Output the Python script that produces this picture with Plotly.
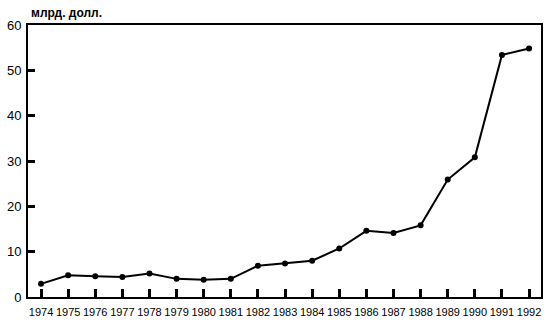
import plotly.graph_objects as go

years = [1974, 1975, 1976, 1977, 1978, 1979, 1980, 1981, 1982, 1983,
         1984, 1985, 1986, 1987, 1988, 1989, 1990, 1991, 1992]
values = [2.9, 4.8, 4.6, 4.4, 5.2, 4.0, 3.8, 4.0, 6.9, 7.4,
          8.0, 10.7, 14.6, 14.1, 15.8, 25.9, 30.8, 53.4, 54.8]
y_ticks = [0, 10, 20, 30, 40, 50, 60]
unit_label = "млрд. долл."

fig = go.Figure()
fig.add_trace(go.Scatter(
    x=years, y=values, mode="lines+markers",
    line=dict(color="black", width=2),
    marker=dict(color="black", size=6),
    showlegend=False, hoverinfo="skip"))

fig.update_layout(
    width=550, height=328,
    margin=dict(l=27, r=7, t=25, b=31),
    paper_bgcolor="white", plot_bgcolor="white",
    font=dict(family="Liberation Sans, Arial, sans-serif", color="black"),
    xaxis=dict(
        range=[1973.52, 1992.44], tickvals=years, ticktext=[str(y) for y in years],
        showgrid=False, zeroline=False,
        showline=True, linecolor="black", linewidth=2, mirror=True,
        ticks="inside", ticklen=8, tickwidth=3, tickcolor="black",
        tickfont=dict(family="Liberation Sans, Arial, sans-serif", size=11),
        tickangle=0,
        ticklabelstandoff=4,
    ),
    yaxis=dict(
        range=[0, 60], tickvals=y_ticks,
        showgrid=False, zeroline=False,
        showline=True, linecolor="black", linewidth=2, mirror=True,
        ticks="inside", ticklen=7, tickwidth=3, tickcolor="black",
        tickfont=dict(size=13),
        ticklabelstandoff=2,
    ),
    annotations=[dict(
        text="<b>" + unit_label + "</b>", xref="paper", yref="paper",
        x=0, y=1, xanchor="left", yanchor="bottom", yshift=3, xshift=1,
        showarrow=False, font=dict(size=12))],
)

fig.write_html("out.html")
